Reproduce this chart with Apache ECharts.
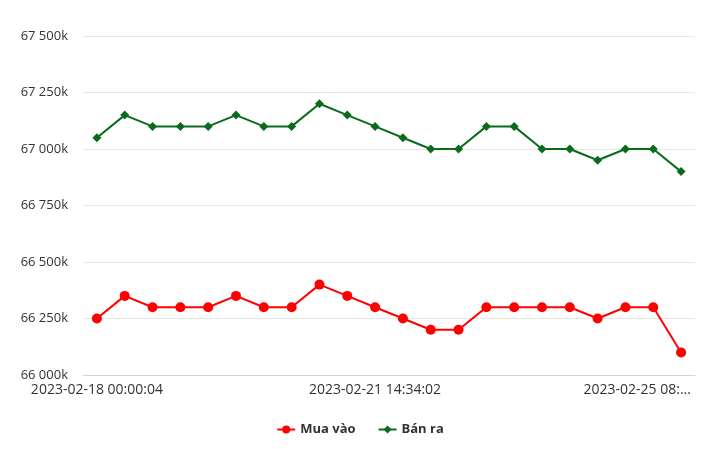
<!DOCTYPE html>
<html>
<head>
<meta charset="utf-8">
<script src="https://cdn.jsdelivr.net/npm/echarts@6/dist/echarts.min.js"></script>
<style>
html,body{margin:0;padding:0;background:#fff;}
#c{width:720px;height:449px;}
</style>
</head>
<body>
<div id="c"></div>
<script>
var categories = [
  "2023-02-18 00:00:04","2023-02-18 09:12:10","2023-02-18 15:30:05",
  "2023-02-19 08:45:02","2023-02-19 16:20:11","2023-02-20 08:30:03",
  "2023-02-20 11:15:07","2023-02-20 16:40:02","2023-02-21 08:35:04",
  "2023-02-21 10:20:06","2023-02-21 14:34:02","2023-02-22 08:40:01",
  "2023-02-22 14:10:05","2023-02-23 08:30:02","2023-02-23 11:45:03",
  "2023-02-23 15:20:09","2023-02-24 08:35:02","2023-02-24 11:10:04",
  "2023-02-24 14:50:03","2023-02-24 16:30:06","2023-02-25 08:30:05",
  "2023-02-25 10:15:02"
];
var muaVao = [66250,66350,66300,66300,66300,66350,66300,66300,66400,66350,66300,66250,66200,66200,66300,66300,66300,66300,66250,66300,66300,66100];
var banRa = [67050,67150,67100,67100,67100,67150,67100,67100,67200,67150,67100,67050,67000,67000,67100,67100,67000,67000,66950,67000,67000,66900];
var shownLabelIdx = [0,10,20];

var FONT = "'Open Sans', sans-serif";
var chart = echarts.init(document.getElementById('c'));
chart.setOption({
  animation: false,
  grid: {left: 83, right: 25, top: 36, bottom: 74},
  legend: {
    bottom: 8,
    left: 'center',
    itemWidth: 18,
    itemHeight: 10,
    itemGap: 22,
    textStyle: {fontFamily: FONT, fontSize: 13, fontWeight: 'bold', color: '#333'},
    data: ['Mua vào', 'Bán ra']
  },
  xAxis: {
    type: 'category',
    data: categories,
    boundaryGap: true,
    axisLine: {lineStyle: {color: '#ccd6eb', width: 1}},
    axisTick: {show: false},
    axisLabel: {
      interval: function (i) { return shownLabelIdx.indexOf(i) >= 0; },
      fontFamily: FONT, fontSize: 14, color: '#333', margin: 8,
      formatter: function (v, i) {
        if (i === 20) return '{r|' + v.slice(0, 14) + '...}';
        return v;
      },
      rich: {
        r: {fontFamily: FONT, fontSize: 14, color: '#333', padding: [0, 32, 0, 0]}
      }
    }
  },
  yAxis: {
    type: 'value',
    min: 66000, max: 67500, interval: 250,
    axisLine: {show: false},
    axisTick: {show: false},
    splitLine: {lineStyle: {color: '#e6e6e6', width: 1}},
    axisLabel: {
      fontFamily: FONT, fontSize: 13, color: '#333', margin: 15,
      formatter: function (v) {
        var s = String(v);
        return s.slice(0, s.length - 3) + ' ' + s.slice(s.length - 3) + 'k';
      }
    }
  },
  series: [
    {
      name: 'Mua vào', type: 'line', data: muaVao,
      color: '#ff0000',
      symbol: 'circle', symbolSize: 10,
      lineStyle: {width: 2, color: '#ff0000'},
      itemStyle: {color: '#ff0000'}
    },
    {
      name: 'Bán ra', type: 'line', data: banRa,
      color: '#0a6b1c',
      symbol: 'diamond', symbolSize: 9,
      lineStyle: {width: 2, color: '#0a6b1c'},
      itemStyle: {color: '#0a6b1c'}
    }
  ]
});
</script>
</body>
</html>
